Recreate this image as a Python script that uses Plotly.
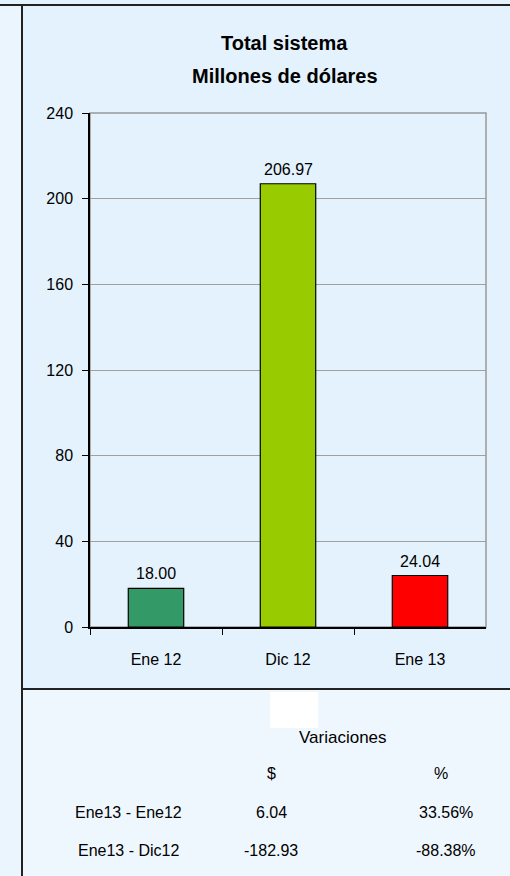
import plotly.graph_objects as go

categories = ["Ene 12", "Dic 12", "Ene 13"]
values = [18.00, 206.97, 24.04]
bar_colors = ["#339966", "#99CC00", "#FF0000"]

var_rows = ["Ene13 - Ene12", "Ene13 - Dic12"]
var_dollars = ["6.04", "-182.93"]
var_percent = ["33.56%", "-88.38%"]

W, H = 510, 876


def px_x(x):
    return x / W


def px_y(y):
    return 1 - y / H


def note(text, x, y, size=16):
    return dict(text=text, x=px_x(x), y=px_y(y), xref="paper", yref="paper",
                xanchor="center", yanchor="middle", showarrow=False,
                font=dict(size=size, color="black"))


fig = go.Figure()

fig.add_trace(go.Bar(
    x=categories,
    y=values,
    marker=dict(color=bar_colors, line=dict(color="black", width=1.2)),
    hoverinfo="skip"
))

shapes = [
    # background panels
    dict(type="rect", xref="paper", yref="paper", x0=0, x1=px_x(22), y0=0, y1=px_y(5),
         fillcolor="#EBF5FD", line=dict(width=0), layer="below"),
    dict(type="rect", xref="paper", yref="paper", x0=px_x(22), x1=1, y0=px_y(689), y1=px_y(5),
         fillcolor="#E4F2FD", line=dict(width=0), layer="below"),
    dict(type="rect", xref="paper", yref="paper", x0=px_x(22), x1=1, y0=0, y1=px_y(689),
         fillcolor="#EFF7FE", line=dict(width=0), layer="below"),
    dict(type="rect", xref="paper", yref="paper", x0=px_x(270), x1=px_x(318), y0=px_y(728), y1=px_y(692),
         fillcolor="white", line=dict(width=0), layer="below"),
    # frame lines
    dict(type="line", xref="paper", yref="paper", x0=0, x1=1, y0=px_y(5), y1=px_y(5),
         line=dict(color="#222222", width=2)),
    dict(type="line", xref="paper", yref="paper", x0=px_x(22), x1=px_x(22), y0=0, y1=px_y(5),
         line=dict(color="#222222", width=2)),
    dict(type="line", xref="paper", yref="paper", x0=px_x(22), x1=1, y0=px_y(689), y1=px_y(689),
         line=dict(color="#222222", width=2)),
    # plot area border
    dict(type="rect", xref="paper", yref="paper", x0=px_x(90), x1=px_x(486), y0=px_y(627), y1=px_y(113),
         line=dict(color="#999999", width=1.5), layer="below"),
]

annotations = [
    note("<b>Total sistema</b>", 284, 43, 20),
    note("<b>Millones de dólares</b>", 285, 76, 20),
    note("Variaciones", 343, 737, 17),
    note("$", 271, 773),
    note("%", 441, 773),
]

# value labels above the bars
for c, v in zip(categories, values):
    annotations.append(dict(text="%.2f" % v, x=c, y=v, xref="x", yref="y",
                            xanchor="center", yanchor="bottom", yshift=4,
                            showarrow=False, font=dict(size=16, color="black")))

row_y = [812, 850]
for i in range(len(var_rows)):
    annotations.append(note(var_rows[i], 128, row_y[i]))
    annotations.append(note(var_dollars[i], 271, row_y[i]))
    annotations.append(note(var_percent[i], 446, row_y[i]))

fig.update_layout(
    width=W,
    height=H,
    margin=dict(l=0, r=0, t=0, b=0, pad=0, autoexpand=False),
    paper_bgcolor="#E4F2FD",
    plot_bgcolor="white",
    font=dict(family="Liberation Sans, Arial, sans-serif", size=16, color="black"),
    showlegend=False,
    bargap=0.58,
    xaxis=dict(
        domain=[px_x(90), px_x(486)],
        automargin=False,
        showgrid=False,
        showline=True,
        linecolor="black",
        linewidth=1.5,
        ticks="outside",
        tickson="boundaries",
        ticklen=6,
        tickcolor="black",
        tickfont=dict(size=16),
        ticklabelstandoff=17
    ),
    yaxis=dict(
        domain=[px_y(627), px_y(113)],
        automargin=False,
        range=[0, 240],
        tickmode="linear",
        tick0=0,
        dtick=40,
        showgrid=True,
        gridcolor="#A0A0A0",
        gridwidth=1.2,
        showline=True,
        linecolor="black",
        linewidth=1.5,
        ticks="outside",
        ticklen=6,
        tickcolor="black",
        tickfont=dict(size=16),
        ticklabelstandoff=6,
        zeroline=False
    ),
    shapes=shapes,
    annotations=annotations
)

fig.write_html(
    "out.html",
    config={"displayModeBar": False},
    post_script=(
        "document.documentElement.style.margin='0';"
        "document.body.style.margin='0';"
        "document.body.style.overflow='hidden';"
        "var d=document.getElementById('{plot_id}');"
        "d.style.position='fixed';d.style.left='0px';d.style.top='0px';"
    )
)
